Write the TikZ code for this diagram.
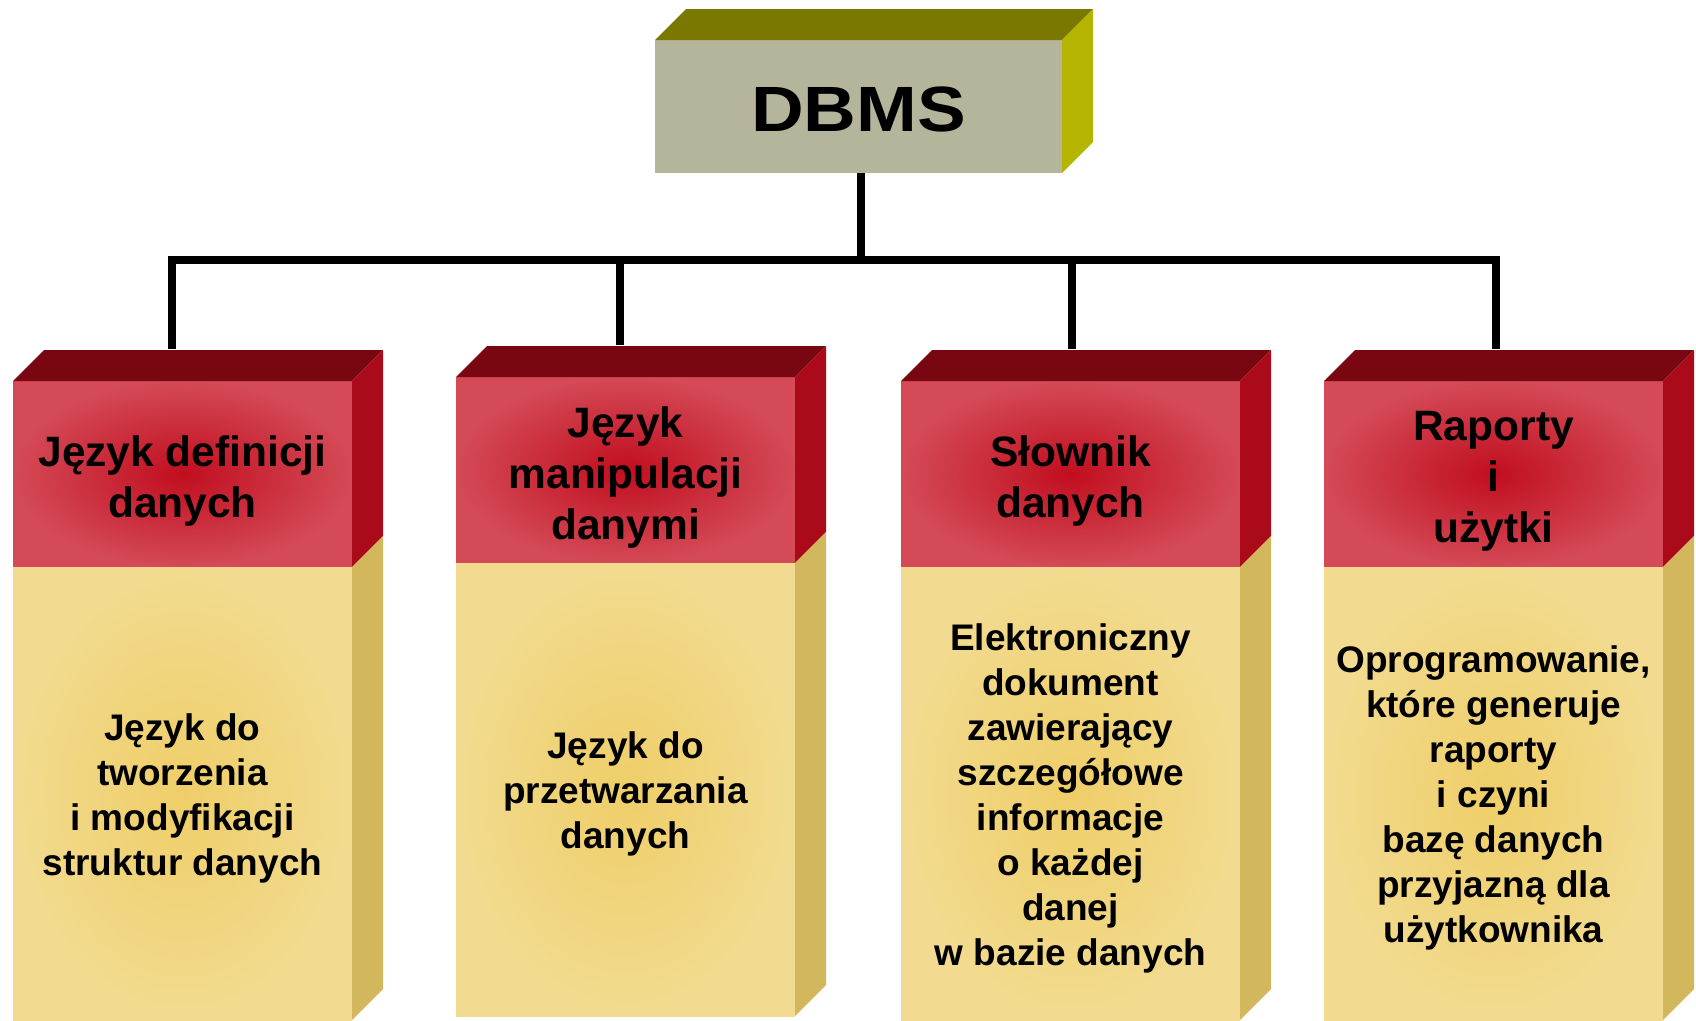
\documentclass[tikz,border=0pt]{standalone}
\usepackage{fontspec}
\usepackage{graphicx}
\setmainfont{Liberation Sans}
\definecolor{dbmsfront}{HTML}{B5B59C}
\definecolor{dbmstop}{HTML}{7A7800}
\definecolor{dbmsside}{HTML}{B5B400}
\definecolor{redouter}{HTML}{D44A56}
\definecolor{redinner}{HTML}{C10E1F}
\definecolor{redtop}{HTML}{780712}
\definecolor{redside}{HTML}{AB0A1A}
\definecolor{yelouter}{HTML}{F2DB90}
\definecolor{yelinner}{HTML}{EFCE68}
\definecolor{yelside}{HTML}{D3B75C}
\tikzset{
  face/.style={inner sep=0pt, outer sep=0pt, align=center, text=black},
  dbmsbox/.style={face, fill=dbmsfront, minimum width=407pt, minimum height=133pt},
  dbmstext/.style={face, font=\bfseries\fontsize{64}{70}\selectfont},
  headbox/.style={face, shade, inner color=redinner, outer color=redouter,
    minimum width=339pt, minimum height=186pt},
  headtext/.style={face, font=\bfseries\fontsize{42.5}{51}\selectfont},
  bodybox/.style={face, shade, inner color=yelinner, outer color=yelouter,
    minimum width=339pt, minimum height=453pt},
  bodytext/.style={face, font=\bfseries\fontsize{37}{45}\selectfont},
  conn/.style={line width=7.5pt, black, line join=miter}
}
% #1 name, #2 left x, #3 front top y, #4 connector x, #5 header, #6 body
\newcommand\dbcol[6]{%
  \node[headbox] (#1h) at ({#2+169.5},{#3+93}) {};
  \node[bodybox] (#1b) at ({#2+169.5},{#3+412.5}) {};
  \fill[redtop] (#1h.north west) -- ++(31,-31) -- ([shift={(31,-31)}]#1h.north east) -- (#1h.north east) -- cycle;
  \fill[redside] (#1h.north east) -- ++(31,-31) -- ([shift={(31,-31)}]#1h.south east) -- (#1h.south east) -- cycle;
  \fill[yelside] (#1b.north east) -- ++(31,-31) -- ([shift={(31,-31)}]#1b.south east) -- (#1b.south east) -- cycle;
  \node[headtext] (#1ht) at ([yshift=-7.5pt]#1h.center) {#5};
  \node[bodytext] (#1bt) at ([yshift=-4.5pt]#1b.center) {#6};
  \coordinate (#1c) at (#4,{#3-32});
}
\begin{document}
\begin{tikzpicture}[x=1pt,y=-1pt]
\useasboundingbox (0,0) rectangle (1696,1020);
% DBMS box
\node[dbmsbox] (dbms) at (858.5,106.5) {};
\fill[dbmstop] (dbms.north west) -- ++(31,-31) -- ([shift={(31,-31)}]dbms.north east) -- (dbms.north east) -- cycle;
\fill[dbmsside] (dbms.north east) -- ++(31,-31) -- ([shift={(31,-31)}]dbms.south east) -- (dbms.south east) -- cycle;
\node[dbmstext] (dbmst) at ([yshift=-3pt]dbms.center) {\scalebox{1.14}[1]{DBMS}};
% columns
\dbcol{k1}{13}{381}{172}{Język definicji\\danych}{Język do\\tworzenia\\i modyfikacji\\struktur danych}
\dbcol{k2}{456}{377}{620}{Język\\manipulacji\\danymi}{Język do\\przetwarzania\\danych}
\dbcol{k3}{901}{381}{1072}{Słownik\\danych}{Elektroniczny\\dokument\\zawierający\\szczegółowe\\informacje\\o każdej\\danej\\w bazie danych}
\dbcol{k4}{1324}{381}{1496}{Raporty\\i\\użytki}{Oprogramowanie,\\które generuje\\raporty\\i czyni\\bazę danych\\przyjazną dla\\użytkownika}
% connectors
\coordinate (bar) at (861,260);
\draw[conn] (dbms.south -| bar) -- (bar);
\draw[conn] (k1c) -- (k1c |- bar) -- (k4c |- bar) -- (k4c);
\draw[conn] (k2c) -- (k2c |- bar);
\draw[conn] (k3c) -- (k3c |- bar);
\end{tikzpicture}
\end{document}
